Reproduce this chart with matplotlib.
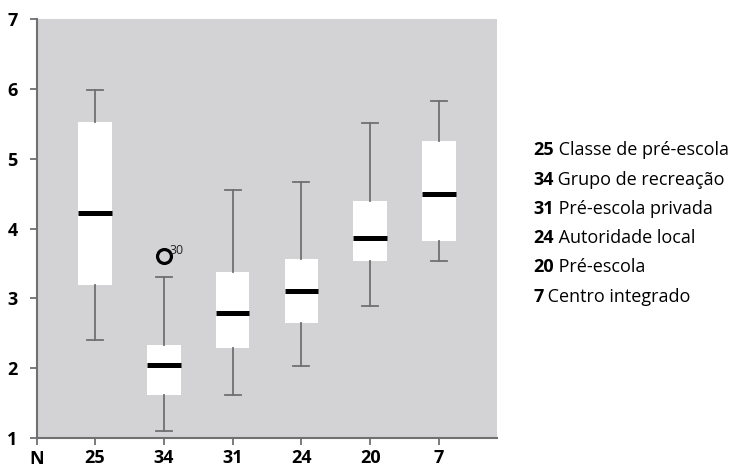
import matplotlib
matplotlib.use("Agg")
import matplotlib.pyplot as plt

plt.rcParams['font.family'] = ['Open Sans', 'DejaVu Sans']

counts = ["25", "34", "31", "24", "20", "7"]
names = ["Classe de pré-escola", "Grupo de recreação", "Pré-escola privada",
         "Autoridade local", "Pré-escola", "Centro integrado"]
whislo = [2.41, 1.10, 1.61, 2.03, 2.89, 3.53]
q1 = [3.19, 1.62, 2.29, 2.64, 3.53, 3.82]
med = [4.22, 2.04, 2.79, 3.11, 3.87, 4.49]
q3 = [5.53, 2.33, 3.38, 3.57, 4.39, 5.26]
whishi = [5.99, 3.31, 4.55, 4.66, 5.51, 5.83]
outliers = [[], [3.60], [], [], [], []]
outlier_ids = [[], ["30"], [], [], [], []]
yticks = [1, 2, 3, 4, 5, 6, 7]

stats = []
for i in range(len(counts)):
    stats.append(dict(whislo=whislo[i], q1=q1[i], med=med[i], q3=q3[i],
                      whishi=whishi[i], fliers=outliers[i], label=counts[i]))

fig = plt.figure(figsize=(7.44, 4.70), dpi=100)
ax = fig.add_axes([37/744, 1-438/470, (497-37)/744, (438-19)/470])
ax.set_facecolor('#d3d3d5')

gray = '#707070'
positions = list(range(1, len(counts)+1))
ax.bxp(stats, positions=positions, widths=0.49, patch_artist=True,
       boxprops=dict(facecolor='white', edgecolor='none', linewidth=0),
       medianprops=dict(color='black', linewidth=3.6, solid_capstyle='butt'),
       whiskerprops=dict(color=gray, linewidth=1.3),
       capprops=dict(color=gray, linewidth=1.3),
       capwidths=0.23,
       flierprops=dict(marker='o', markersize=10, markerfacecolor='none',
                       markeredgecolor='black', markeredgewidth=2.3))

for i, (vals, ids) in enumerate(zip(outliers, outlier_ids)):
    for v, t in zip(vals, ids):
        ax.annotate(t, xy=(positions[i], v), xytext=(6, -1), textcoords='offset pixels',
                    fontsize=9, color='#222222', ha='left', va='bottom')

ax.set_xlim(0.157, 6.843)
ax.set_ylim(1, 7)
ax.set_yticks(yticks)
ax.set_yticklabels([str(t) for t in yticks], fontweight='bold', fontsize=13)
ax.set_xticks(positions)
ax.set_xticklabels(counts, fontweight='bold', fontsize=13)
ax.set_xticks([0.157], minor=True)
for s in ['top', 'right']:
    ax.spines[s].set_visible(False)
for s in ['left', 'bottom']:
    ax.spines[s].set_color(gray)
    ax.spines[s].set_linewidth(1.5)
ax.tick_params(axis='both', which='both', color=gray, width=1.3, length=5,
               direction='out', labelcolor='black')
ax.tick_params(axis='y', pad=9)
ax.tick_params(axis='x', pad=3)

fig.text(37/744, 1-459/470, "N", fontweight='bold', fontsize=13, ha='center', va='center')

ys = [150, 179.5, 209, 238, 267.5, 297]
for c, n, y in zip(counts, names, ys):
    t = fig.text(533/744, 1-y/470, c, fontweight='bold', fontsize=13, ha='left', va='center')
    ax.annotate(" " + n, xy=(1, 0.5), xycoords=t, va='center', ha='left', fontsize=13,
                annotation_clip=False)

fig.savefig('out.png', dpi=100)
